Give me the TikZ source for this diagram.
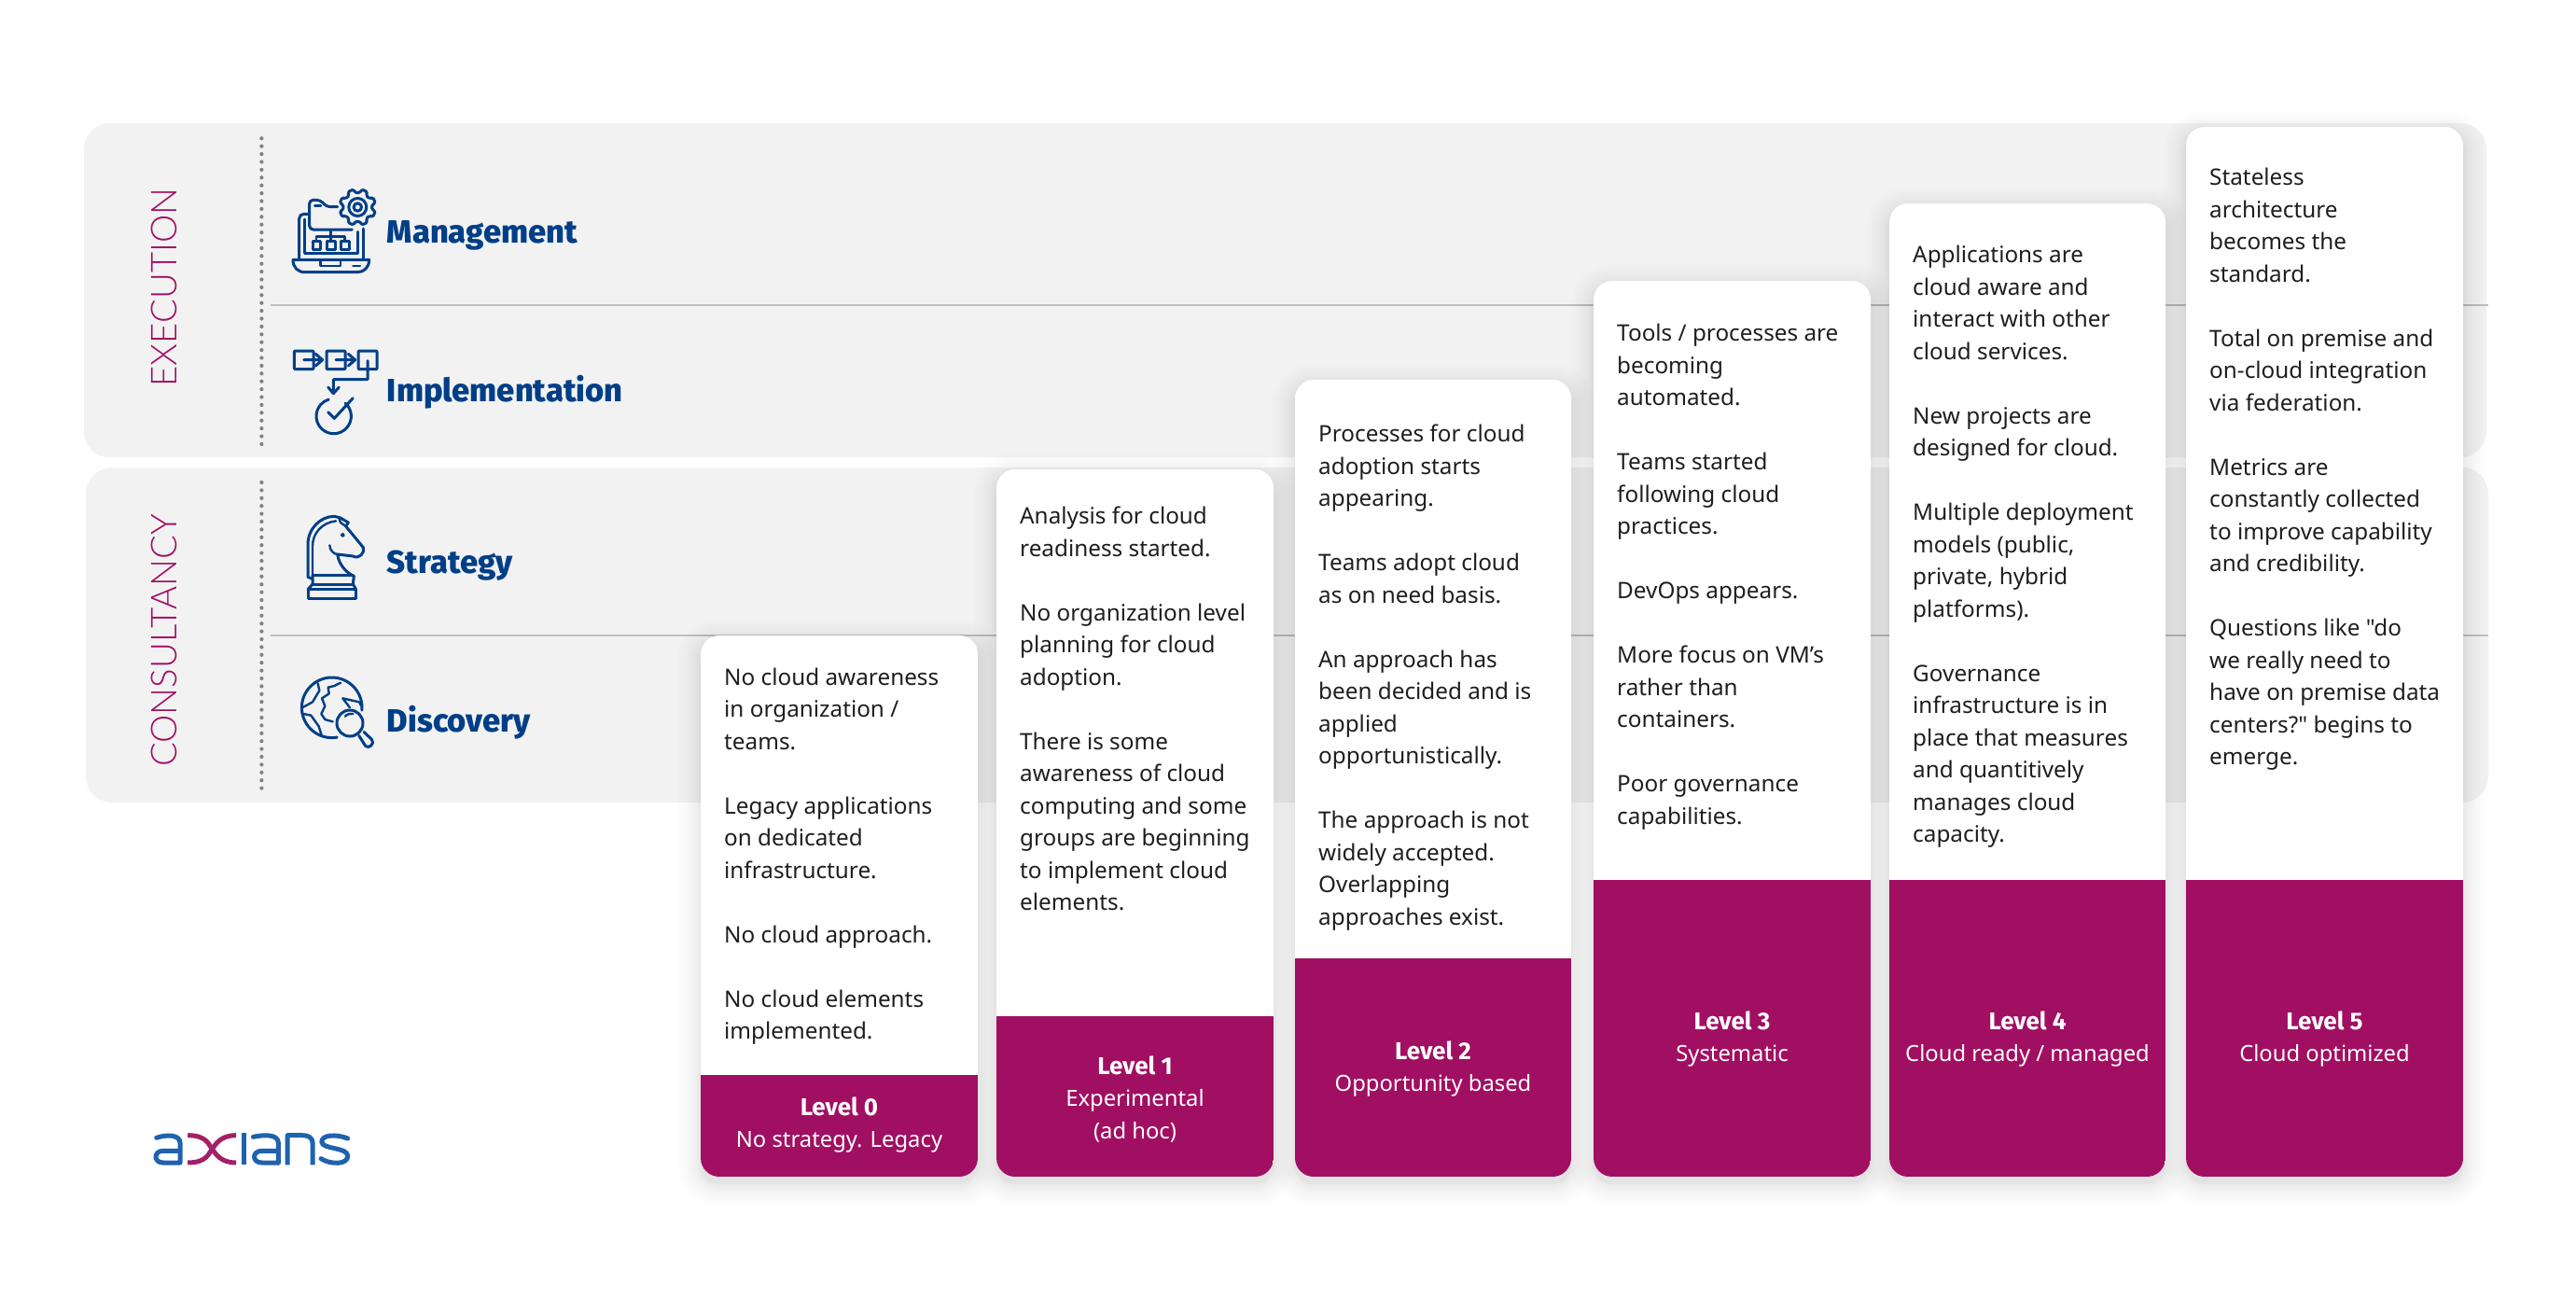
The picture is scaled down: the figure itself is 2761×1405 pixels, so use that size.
\documentclass[tikz,border=0pt]{standalone}
\usepackage{fontspec}
\setmainfont{Noto Sans}[Ligatures=TeXOff]
\newfontfamily\labelfont{Fira Sans ExtraBold}
\newfontfamily\levelfont{Fira Sans}[BoldFont=* Bold]
\newfontfamily\thinfont{Lato Light}
\definecolor{band}{HTML}{F2F2F2}
\definecolor{wine}{HTML}{A10F62}
\definecolor{navy}{HTML}{003F87}
\definecolor{logoblue}{HTML}{1F62AE}
\definecolor{logowine}{HTML}{A32067}
\definecolor{inktext}{HTML}{1E1E1E}
\tikzset{
  x=1pt,y=-1pt,
  bandbox/.style={fill=band,rounded corners=28pt},
  sepline/.style={draw=black!25,line width=1.6pt},
  dotline/.style={draw=black!50,line width=4.2pt,line cap=round,dash pattern=on 0pt off 8.4pt},
  sidelabel/.style={inner sep=0pt,text=wine,font=\thinfont\fontsize{38.3}{39}\selectfont,rotate=90,anchor=center},
  rowlabel/.style={inner sep=0pt,anchor=base west,text=navy,font=\labelfont\fontsize{34.5}{34.5}\selectfont},
  cardwhite/.style={fill=white,rounded corners=20pt,inner sep=0pt},
  cardtext/.style={inner sep=0pt,anchor=north west,align=left,text=inktext,font=\fontsize{24.3}{34.5}\selectfont},
  foottext/.style={inner sep=0pt,anchor=north,align=center,text=white,font=\fontsize{23.8}{34.5}\selectfont},
  iconline/.style={draw=navy,line width=3pt,line cap=round,line join=round},
  iconthin/.style={draw=navy,line width=2.4pt,line cap=round,line join=round},
  logoa/.style={draw=logoblue,line width=5pt,line cap=round,line join=round},
  logox/.style={draw=logowine,line width=5pt,line cap=butt},
  zoomed/.style={x=1pt/3,y=-1pt/3},
}
\newcommand\lvl[1]{{\levelfont\bfseries\fontsize{26}{34.5}\selectfont #1}}
\newcommand\cardshadow[3]{%
  \foreach \i in {1,...,14}{%
    \pgfmathsetmacro\sp{\i*\i/8}%
    \fill[black,opacity=0.009,rounded corners={(20+\sp)*1pt}]
      ({#1-\sp},{#3-\sp+7}) rectangle ({#2+\sp},{1261+\sp+7});}}
% name, x1, x2, top, split, first baseline, body, footer baseline, footer
\newcommand\levelcard[9]{%
  \node[cardwhite,minimum width={(#3-#2)*1pt},minimum height={(1261-#4)*1pt}] (#1) at ({(#2+#3)/2},{(#4+1261)/2}) {};
  \begin{scope}
    \clip[rounded corners=20pt] (#2,#4) rectangle (#3,1261);
    \fill[wine] (#2,#5) rectangle (#3,1261);
  \end{scope}
  \node[cardtext] (#1text) at (#2+25,#6-24) {\rule{0pt}{24pt}#7};
  \node[foottext] (#1foot) at ({(#2+#3)/2},#8-24) {\rule{0pt}{24pt}#9};
}
\newcommand\pg{\\[34.5pt]}
\begin{document}
\begin{tikzpicture}
\useasboundingbox (0,0) rectangle (2761,1405);
\fill[white] (0,0) rectangle (2761,1405);
% bands
\node[bandbox,inner sep=0pt,minimum width=2575pt,minimum height=358.5pt] (execband) at (1377.5,311.2) {};
\node[bandbox,inner sep=0pt,minimum width=2575pt,minimum height=359pt] (consband) at (1379.5,680.5) {};
\coordinate (d1a) at (280.4,148.3); \coordinate (d1b) at (280.4,477);
\coordinate (d2a) at (280.4,517); \coordinate (d2b) at (280.4,846);
\draw[dotline] (d1a) -- (d1b);
\draw[dotline] (d2a) -- (d2b);
\coordinate (s1a) at (290,327); \coordinate (s1b) at (2667,327);
\coordinate (s2a) at (290,681); \coordinate (s2b) at (2667,681);
\draw[sepline] (s1a) -- (s1b);
\draw[sepline] (s2a) -- (s2b);
\node[sidelabel] (exec) at (176,308) {EXECUTION};
\node[sidelabel] (cons) at (176,686.5) {CONSULTANCY};
\node[rowlabel] (mgmt) at (414.7,260) {Management};
\node[rowlabel] (impl) at (414.7,430) {Implementation};
\node[rowlabel] (strat) at (414.7,614) {Strategy};
\node[rowlabel] (disc) at (414.7,784) {Discovery};
% management icon
\begin{scope}[shift={(300,190)},zoomed]
  \draw[iconline] (42,265) -- (287,265) .. controls (287,290) and (270,305) .. (250,305) -- (80,305) .. controls (58,305) and (42,290) .. (42,265) -- cycle;
  \draw[iconthin] (130,268) -- (130,285) -- (195,285) -- (195,268);
  \draw[iconthin] (235,285) -- (258,285);
  \draw[iconline,rounded corners=5pt] (62,262) -- (62,118) -- (95,118);
  \draw[iconline] (268,165) -- (268,262);
  \draw[iconline] (80,135) -- (80,245) -- (250,245) -- (250,175);
  \draw[iconline,rounded corners=4pt] (185,95) -- (150,95) -- (130,73) -- (95,73) -- (95,168) -- (232,168);
  \draw[iconthin] (112,92) -- (132,92);
  \draw[iconline] (105,205) rectangle (130,232);
  \draw[iconline] (150,205) rectangle (177,232);
  \draw[iconline] (195,205) rectangle (222,232);
  \draw[iconthin] (117,205) -- (117,190) -- (208,190) -- (208,205);
  \draw[iconthin] (163,170) -- (163,205);
\end{scope}
\begin{scope}[shift={(383.3,222)},x=1pt,y=1pt]
  \draw[iconline,rounded corners=1.5pt]
    (0:15.5) \foreach \a in {0,45,...,315}{
      -- ({\a+9}:15.5) -- ({\a+13}:19.5) -- ({\a+32}:19.5) -- ({\a+36}:15.5) -- ({\a+45}:15.5)} -- cycle;
  \draw[iconline] (0,0) circle (9.5);
  \draw[iconline] (0,0) circle (4.2);
\end{scope}
% implementation icon
\begin{scope}[shift={(300,190)},zoomed]
  \draw[iconline,rounded corners=1pt] (46,558) rectangle (108,617);
  \draw[iconline,rounded corners=1pt] (150,558) rectangle (210,617);
  \draw[iconline,rounded corners=1pt] (252,558) rectangle (312,617);
  \draw[iconline] (77,587) -- (132,587) (115,568) -- (137,587) -- (115,606);
  \draw[iconline] (180,587) -- (237,587) (220,568) -- (242,587) -- (220,606);
  \draw[iconline] (282,590) -- (282,650) -- (172,650) -- (172,695) (155,675) -- (172,695) -- (190,675);
  \draw[iconline] (155,755) -- (175,775) -- (235,710);
\end{scope}
\begin{scope}[shift={(357.7,446)},x=1pt,y=1pt]
  \draw[iconline] (48:18.7) arc[start angle=48,end angle=-253,radius=18.7];
\end{scope}
% knight icon
\begin{scope}[shift={(310,540)},zoomed]
  \draw[iconline] (60,275) rectangle (215,305);
  \draw[iconline] (75,230) -- (205,230) (75,258) -- (205,258);
  \draw[iconline] (60,275) -- (75,258) -- (75,230);
  \draw[iconline] (215,275) -- (205,258) -- (208,232);
  \draw[iconline] (72,240) -- (60,235) -- (60,130) .. controls (60,80) and (100,40) .. (145,40)
     -- (165,45) -- (190,60) -- (182,72) -- (238,140) .. controls (245,155) and (225,180) .. (205,168)
     -- (155,162) .. controls (160,200) and (190,225) .. (208,232);
  \draw[iconthin] (75,228) -- (75,135) .. controls (75,95) and (105,60) .. (150,55);
  \draw[iconthin] (160,45) -- (165,60) -- (182,72);
  \draw[iconthin] (130,133) .. controls (130,150) and (145,162) .. (155,162);
  \fill[navy] (172,100) circle (2.3pt);
\end{scope}
% globe icon
\begin{scope}[shift={(355.7,758.3)},x=1pt,y=1pt]
  \draw[iconline] (-5:32.3) arc[start angle=-5,end angle=280,radius=32.3];
\end{scope}
\begin{scope}[shift={(310,715)},zoomed]
  \draw[iconthin] (92,52) -- (97,75) -- (75,112) -- (42,130);
  \draw[iconthin] (45,150) -- (70,155) -- (95,190) -- (105,222);
  \draw[iconthin] (165,50) -- (145,60) -- (125,65) -- (128,85) -- (105,100) -- (115,125) -- (103,150) -- (115,168) -- (140,175);
  \draw[iconthin] (172,100) -- (225,112) (172,100) -- (195,130) (232,125) -- (225,112);
  \draw[iconthin] (180,158) .. controls (187,150) and (197,148) .. (205,150);
  \draw[iconline] (224,220) -- (245,253) .. controls (255,265) and (278,245) .. (265,232) -- (240,208);
\end{scope}
\draw[iconline] (375,775) circle (14);
% shadows then cards
\cardshadow{751}{1048}{681}
\cardshadow{1068}{1365}{503}
\cardshadow{1388}{1684}{407}
\cardshadow{1708}{2005}{301}
\cardshadow{2025}{2321}{218}
\cardshadow{2343}{2640}{136}
\levelcard{lv0}{751}{1048}{681}{1152}{734}{No cloud awareness\\in organization /\\teams.\pg Legacy applications\\on dedicated\\infrastructure.\pg No cloud approach.\pg No cloud elements\\implemented.}{1195}{\lvl{Level 0}\\No strategy. Legacy}
\levelcard{lv1}{1068}{1365}{503}{1089}{561.5}{Analysis for cloud\\readiness started.\pg No organization level\\planning for cloud\\adoption.\pg There is some\\awareness of cloud\\computing and some\\groups are beginning\\to implement cloud\\elements.}{1151}{\lvl{Level 1}\\Experimental\\(ad hoc)}
\levelcard{lv2}{1388}{1684}{407}{1027}{473.5}{Processes for cloud\\adoption starts\\appearing.\pg Teams adopt cloud\\as on need basis.\pg An approach has\\been decided and is\\applied\\opportunistically.\pg The approach is not\\widely accepted.\\Overlapping\\approaches exist.}{1135}{\lvl{Level 2}\\Opportunity based}
\levelcard{lv3}{1708}{2005}{301}{943}{365.5}{Tools / processes are\\becoming\\automated.\pg Teams started\\following cloud\\practices.\pg DevOps appears.\pg More focus on VM’s\\rather than\\containers.\pg Poor governance\\capabilities.}{1103}{\lvl{Level 3}\\Systematic}
\levelcard{lv4}{2025}{2321}{218}{943}{281.5}{Applications are\\cloud aware and\\interact with other\\cloud services.\pg New projects are\\designed for cloud.\pg Multiple deployment\\models (public,\\private, hybrid\\platforms).\pg Governance\\infrastructure is in\\place that measures\\and quantitively\\manages cloud\\capacity.}{1103}{\lvl{Level 4}\\Cloud ready / managed}
\levelcard{lv5}{2343}{2640}{136}{943}{198.5}{Stateless\\architecture\\becomes the\\standard.\pg Total on premise and\\on-cloud integration\\via federation.\pg Metrics are\\constantly collected\\to improve capability\\and credibility.\pg Questions like "do\\we really need to\\have on premise data\\centers?" begins to\\emerge.}{1103}{\lvl{Level 5}\\Cloud optimized}
% logo
\begin{scope}[shift={(140,1180)},x=1pt/2.45,y=-1pt/3]
  \draw[logoa] (68,118) .. controls (90,108) and (130,105) .. (130,135) -- (130,198) -- (85,198)
     .. controls (60,198) and (60,160) .. (85,160) -- (128,160);
  \draw[logox] (150,110) .. controls (200,110) and (205,140) .. (214,154) .. controls (223,168) and (235,198) .. (277,198);
  \draw[logox] (277,110) .. controls (235,110) and (223,140) .. (214,154) .. controls (205,168) and (200,198) .. (150,198);
  \draw[logoa,line cap=butt] (298,103) -- (298,205);
  \draw[logoa] (388,198) -- (345,198) .. controls (318,198) and (318,160) .. (345,160) -- (386,160);
  \draw[logoa] (388,198) -- (388,135) .. controls (388,105) and (350,108) .. (322,115);
  \draw[logoa,line cap=butt] (412,205) -- (412,110) -- (450,110) .. controls (470,110) and (478,120) .. (478,135) -- (478,205);
  \draw[logoa] (570,120) .. controls (540,105) and (500,108) .. (502,132) .. controls (504,155) and (568,148) .. (570,175) .. controls (572,205) and (525,205) .. (500,185);
\end{scope}
\end{tikzpicture}
\end{document}
